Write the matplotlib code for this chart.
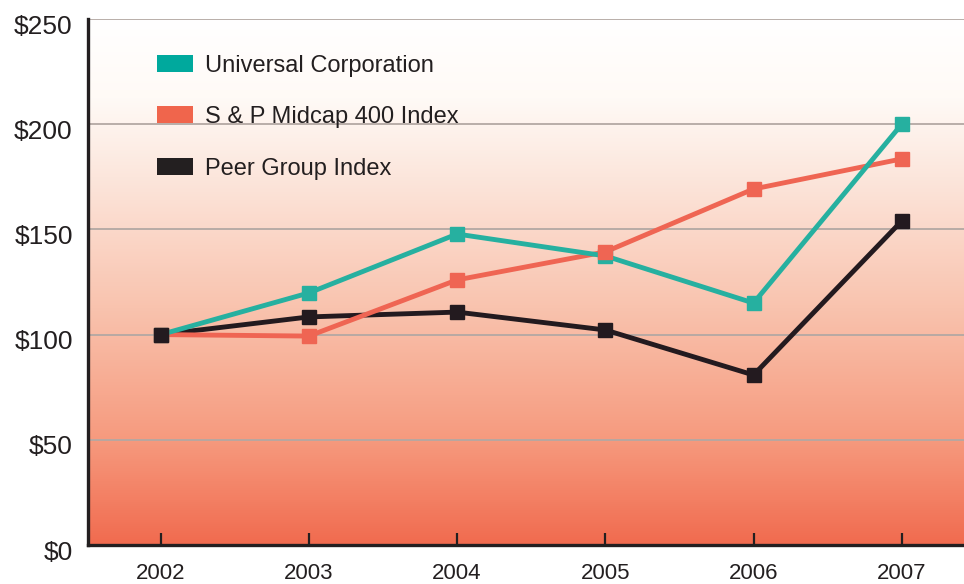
import numpy as np
import matplotlib.pyplot as plt
import matplotlib.transforms as mtransforms
from matplotlib.colors import LinearSegmentedColormap
from matplotlib.patches import Rectangle

years = [2002, 2003, 2004, 2005, 2006, 2007]
universal = [100, 119.8, 147.8, 137.4, 115.0, 200.0]
sp_midcap = [100, 99.3, 126.0, 139.3, 169.2, 183.5]
peer_group = [100, 108.4, 110.7, 102.2, 80.8, 154.0]
y_ticks = [0, 50, 100, 150, 200, 250]
y_labels = ['$0', '$50', '$100', '$150', '$200', '$250']

series = [
    ('Peer Group Index', peer_group, '#231a1f'),
    ('S & P Midcap 400 Index', sp_midcap, '#ef6553'),
    ('Universal Corporation', universal, '#26b0a0'),
]
legend_order = ['Universal Corporation', 'S & P Midcap 400 Index', 'Peer Group Index']
legend_colors = {'Universal Corporation': '#00a99d',
                 'S & P Midcap 400 Index': '#f0654c',
                 'Peer Group Index': '#231f20'}

fig = plt.figure(figsize=(9.64, 5.84), dpi=100)
ax = fig.add_axes([88 / 964, 39 / 584, 876 / 964, 526 / 584])

# background gradient (white at top -> coral at bottom)
cmap = LinearSegmentedColormap.from_list(
    'bg', [(0.0, '#f16b4f'), (0.2, '#f69a7e'), (0.45, '#f9c3ae'),
           (0.7, '#fce6dc'), (0.85, '#fffaf6'), (1.0, '#ffffff')])
grad = np.linspace(0, 1, 256).reshape(-1, 1)
ax.imshow(grad, cmap=cmap, aspect='auto', origin='lower',
          extent=[0, 1, 0, 1], transform=ax.transAxes, zorder=0)

ax.set_xlim(2001.51, 2007.42)
ax.set_ylim(0, 250)

for v in y_ticks[1:]:
    ax.axhline(v, color='#b3a8a3', lw=1.3, zorder=1)

for name, vals, col in series:
    ax.plot(years, vals, color=col, lw=3.5, zorder=3, solid_capstyle='butt')
for name, vals, col in series[::-1]:
    ax.plot(years, vals, ls='none', marker='s', ms=9.5, color=col, zorder=4)

# legend
ys = [0.9145, 0.8175, 0.7186]
for name, yc in zip(legend_order, ys):
    ax.add_patch(Rectangle((0.0788, yc - 0.0161), 0.0411, 0.0323,
                           transform=ax.transAxes, color=legend_colors[name],
                           zorder=5, lw=0))
    ax.text(0.1336, yc - 0.003, name, transform=ax.transAxes, va='center', ha='left',
            fontsize=17, family='Liberation Sans', color='#231f20', zorder=5)

ax.set_yticks(y_ticks)
ax.set_yticklabels(y_labels, family='Liberation Sans', fontsize=19, color='#231f20')
ax.tick_params(axis='y', length=0, pad=11)
shift = mtransforms.ScaledTranslation(0, -5 / 100, fig.dpi_scale_trans)
for lab in ax.get_yticklabels():
    lab.set_transform(lab.get_transform() + shift)

ax.set_xticks(years)
ax.set_xticklabels([str(y) for y in years], family='Liberation Sans',
                   fontsize=16, color='#231f20')
ax.tick_params(axis='x', direction='in', length=9, width=1.6, color='#231f20', pad=13)

for s in ['top', 'right']:
    ax.spines[s].set_visible(False)
for s in ['left', 'bottom']:
    ax.spines[s].set_linewidth(2.4)
    ax.spines[s].set_color('#231f20')
    ax.spines[s].set_zorder(6)

fig.savefig('out.png', dpi=100)
